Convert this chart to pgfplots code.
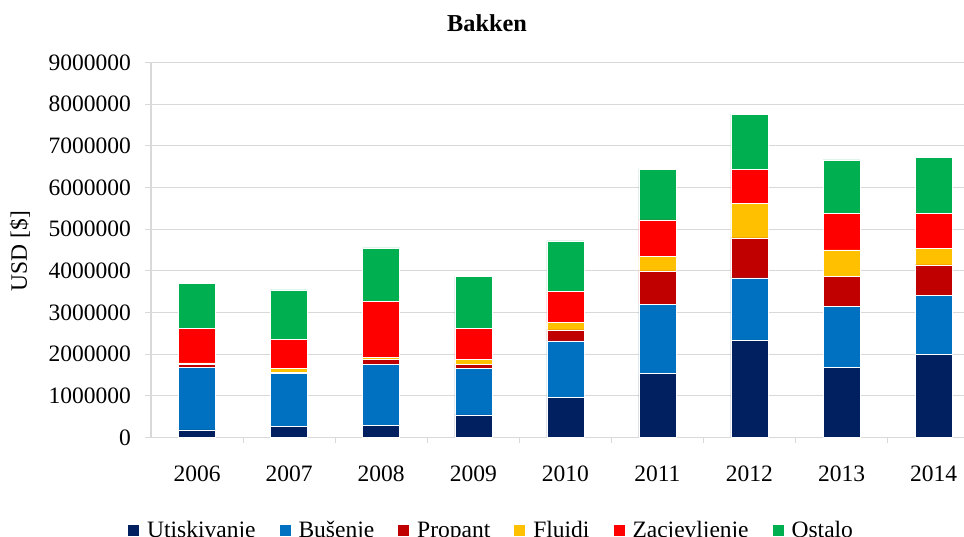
\documentclass[border=0pt]{standalone}
\usepackage{pgfplots}
\pgfplotsset{compat=1.18}
\usepackage{pgfplotstable}
\usepackage{fontspec}
\setmainfont{Liberation Serif}
\definecolor{cU}{HTML}{002060}
\definecolor{cB}{HTML}{0070C0}
\definecolor{cP}{HTML}{C00000}
\definecolor{cF}{HTML}{FFC000}
\definecolor{cZ}{HTML}{FF0000}
\definecolor{cO}{HTML}{00B050}
\definecolor{gridc}{HTML}{D9D9D9}
\pgfplotstableread{
x U B P F Z O
0 180000 1500000 70000 40000 820000 1080000
1 260000 1280000 30000 80000 710000 1180000
2 290000 1470000 110000 60000 1340000 1280000
3 540000 1110000 110000 110000 740000 1260000
4 960000 1360000 260000 180000 740000 1220000
5 1530000 1660000 810000 340000 880000 1220000
6 2330000 1500000 960000 830000 810000 1330000
7 1680000 1460000 720000 640000 870000 1290000
8 2000000 1410000 730000 400000 830000 1350000
}\data
\begin{document}
\begin{tikzpicture}[x=1pt,y=1pt]
\begin{axis}[
  at={(151pt,99.5pt)}, anchor=south west,
  scale only axis, width=813pt, height=375pt,
  ybar stacked, bar width=37pt,
  xmin=-0.5, xmax=8.33, ymin=0, ymax=9000000,
  ytick={0,1000000,2000000,3000000,4000000,5000000,6000000,7000000,8000000,9000000},
  scaled y ticks=false,
  yticklabel style={/pgf/number format/fixed,/pgf/number format/1000 sep={}, inner sep=0pt, xshift=-14pt},
  /pgf/number format/assume math mode=true,
  xtick={0,1,2,3,4,5,6,7,8},
  xticklabels={2006,2007,2008,2009,2010,2011,2012,2013,2014},
  xticklabel style={inner sep=0pt, yshift=-22pt},
  x tick style={draw=none},
  extra x ticks={0.5,1.5,2.5,3.5,4.5,5.5,6.5,7.5},
  extra x tick labels={},
  extra x tick style={x tick style={draw=gridc, line width=1pt}, major tick length=6pt, tick align=outside, grid=none},
  y tick style={draw=gridc, line width=1pt},
  major tick length=6pt, tick align=outside,
  axis x line*=bottom, axis y line*=left,
  axis line style={draw=gridc, line width=1.2pt},
  ymajorgrids, grid style={draw=gridc, line width=1.3pt},
  tick label style={font=\fontsize{23.5}{27}\selectfont},
  every axis plot/.append style={draw=white, line width=0.5pt},
  area legend,
  legend image code/.code={\fill[#1,draw=none] (0pt,-5.5pt) rectangle (11pt,5.5pt);},
  legend columns=6,
  legend style={at={(-0.0283,-0.248)}, anchor=west, draw=none, fill=none,
    font=\fontsize{23.5}{27}\selectfont, inner sep=0pt,
    nodes={inner sep=3pt},
    /tikz/every odd column/.append style={column sep=5pt},
    /tikz/every even column/.append style={column sep=21pt}},
]
\addplot[fill=cU] table[x=x,y=U]{\data};
\addplot[fill=cB] table[x=x,y=B]{\data};
\addplot[fill=cP] table[x=x,y=P]{\data};
\addplot[fill=cF] table[x=x,y=F]{\data};
\addplot[fill=cZ] table[x=x,y=Z]{\data};
\addplot[fill=cO] table[x=x,y=O]{\data};
\legend{Utiskivanje,Bušenje,Propant,Fluidi,Zacjevljenje,Ostalo}
\end{axis}
\node[font=\bfseries\fontsize{24.3}{28}\selectfont] at (487,514) {Bakken};
\node[rotate=90, font=\fontsize{23.5}{27}\selectfont] at (20,286) {USD [\$]};
\pgfresetboundingbox
\path[use as bounding box] (0,0) rectangle (964,537);
\end{tikzpicture}
\end{document}
